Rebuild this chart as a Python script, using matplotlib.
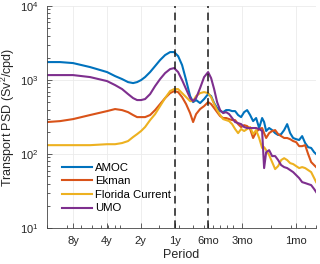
import numpy as np
import matplotlib
matplotlib.use('Agg')
import matplotlib.pyplot as plt

plt.rcParams['font.family'] = ['Liberation Sans', 'DejaVu Sans']
plt.rcParams['mathtext.fontset'] = 'custom'
plt.rcParams['mathtext.rm'] = 'Liberation Sans'
plt.rcParams['mathtext.it'] = 'Liberation Sans:italic'

# frequency (cpd)
freq = [2.000e-4, 2.612e-4, 3.410e-4, 4.834e-4, 6.852e-4, 8.078e-4, 9.325e-4, 1.054e-3,
        1.169e-3, 1.269e-3, 1.377e-3, 1.495e-3, 1.657e-3, 1.836e-3, 2.034e-3, 2.254e-3,
        2.498e-3, 2.712e-3, 2.944e-3, 3.194e-3, 3.468e-3, 3.765e-3, 4.004e-3, 4.258e-3,
        4.622e-3, 5.017e-3, 5.448e-3, 5.792e-3, 6.162e-3, 6.552e-3, 6.968e-3, 7.414e-3,
        7.882e-3, 8.382e-3, 8.916e-3, 9.480e-3, 1.008e-2, 1.072e-2, 1.141e-2, 1.213e-2,
        1.290e-2, 1.372e-2, 1.459e-2, 1.552e-2, 1.650e-2, 1.719e-2, 1.792e-2, 1.905e-2,
        2.026e-2, 2.155e-2, 2.292e-2, 2.438e-2, 2.592e-2, 2.758e-2, 2.932e-2, 3.118e-2,
        3.317e-2, 3.527e-2, 3.751e-2, 3.990e-2, 4.243e-2, 4.512e-2, 4.798e-2, 5.000e-2]

amoc = [1751, 1751, 1697, 1499, 1283, 1132, 1032, 939, 911, 939,
        1000, 1098, 1283, 1546, 1864, 2177, 2389, 2389, 2110, 1595,
        1000, 608, 504, 537, 489, 554, 647, 608, 489, 419,
        381, 369, 393, 393, 381, 381, 337, 316, 369, 393,
        337, 279, 307, 225, 307, 271, 205, 225, 211, 192,
        181, 186, 211, 254, 192, 165, 159, 155, 175, 141,
        124, 121, 106, 100]

ekman = [271, 279, 297, 337, 381, 406, 393, 369, 337, 316,
         316, 316, 337, 393, 474, 571, 667, 710, 688, 589,
         474, 358, 271, 347, 406, 445, 504, 474, 419, 369,
         326, 307, 307, 297, 288, 288, 254, 232, 246, 239,
         218, 165, 198, 218, 225, 192, 165, 192, 205, 211,
         186, 175, 165, 165, 159, 150, 145, 128, 128, 132,
         100, 78, 71, 66.7]

florida = [132, 132, 132, 132, 136, 136, 141, 150, 170, 186,
           205, 232, 288, 347, 445, 571, 710, 756, 756, 667,
           589, 520, 520, 608, 667, 688, 667, 589, 474, 393,
           337, 297, 288, 279, 254, 218, 192, 218, 205, 218,
           232, 186, 211, 165, 121, 124, 113, 97, 78, 62.7,
           68.8, 83, 88, 83, 75.5, 73.3, 68.8, 64.7, 66.7, 64.7,
           60.8, 57.1, 47.4, 41.8]

umo = [1168, 1168, 1168, 1098, 969, 856, 756, 647, 571, 537,
       537, 554, 647, 830, 1032, 1243, 1408, 1453, 1283, 1000,
       756, 571, 520, 571, 780, 1098, 1283, 1064, 756, 504,
       393, 358, 369, 347, 307, 271, 262, 254, 232, 225,
       225, 225, 225, 218, 205, 64.7, 106, 113, 94, 94,
       83, 71, 66.7, 64.7, 60.8, 57.1, 52.0, 47.4, 41.8, 40.6,
       39.3, 38.1, 33.7, 30.7]

names = ['AMOC', 'Ekman', 'Florida Current', 'UMO']
colors = ['#0072BD', '#D95319', '#EDB120', '#7E2F8E']

tick_periods = [8 * 365.25, 4 * 365.25, 2 * 365.25, 365.25, 365.25 / 2, 365.25 / 4, 365.25 / 12]
tick_labels = ['8y', '4y', '2y', '1y', '6mo', '3mo', '1mo']

fig = plt.figure(figsize=(3.2, 2.64), dpi=100)
ax = fig.add_axes([0.147, 0.136, 0.841, 0.841])

for vals, name, c in zip([amoc, ekman, florida, umo], names, colors):
  ax.plot(freq, vals, color=c, lw=1.5, label=name)

# annual and semi-annual periods
for p in [365.25, 365.25 / 2]:
  ax.axvline(1.0 / p, color='#1a1a1a', lw=1.1, ls=(0, (5, 3)), zorder=3)

ax.set_xscale('log')
ax.set_yscale('log')
ax.set_xlim(2e-4, 5e-2)
ax.set_ylim(10, 1e4)
ax.set_xticks([1.0 / p for p in tick_periods])
ax.set_xticklabels(tick_labels)

ax.grid(True, which='major', color='#ebebeb', lw=0.6)
ax.set_axisbelow(True)
for s in ['top', 'right']:
  ax.spines[s].set_visible(False)
for s in ['left', 'bottom']:
  ax.spines[s].set_color('#444444')
  ax.spines[s].set_linewidth(0.6)
ax.tick_params(which='both', direction='in', colors='#444444', labelcolor='#262626',
               labelsize=8, width=0.6, pad=6)
ax.tick_params(which='major', length=3.5)
ax.tick_params(which='minor', length=2)

ax.set_xlabel('Period', fontsize=9, labelpad=2, color='#262626')
ax.set_ylabel('Transport PSD (Sv$^2$/cpd)', fontsize=9, labelpad=2, color='#262626')

ax.legend(loc='lower left', bbox_to_anchor=(0.03, 0.035), frameon=False, fontsize=8.2,
          handlelength=2.6, handletextpad=0.3, labelspacing=0.32, borderaxespad=0.2)

fig.savefig('out.png', dpi=100)
plt.close()
